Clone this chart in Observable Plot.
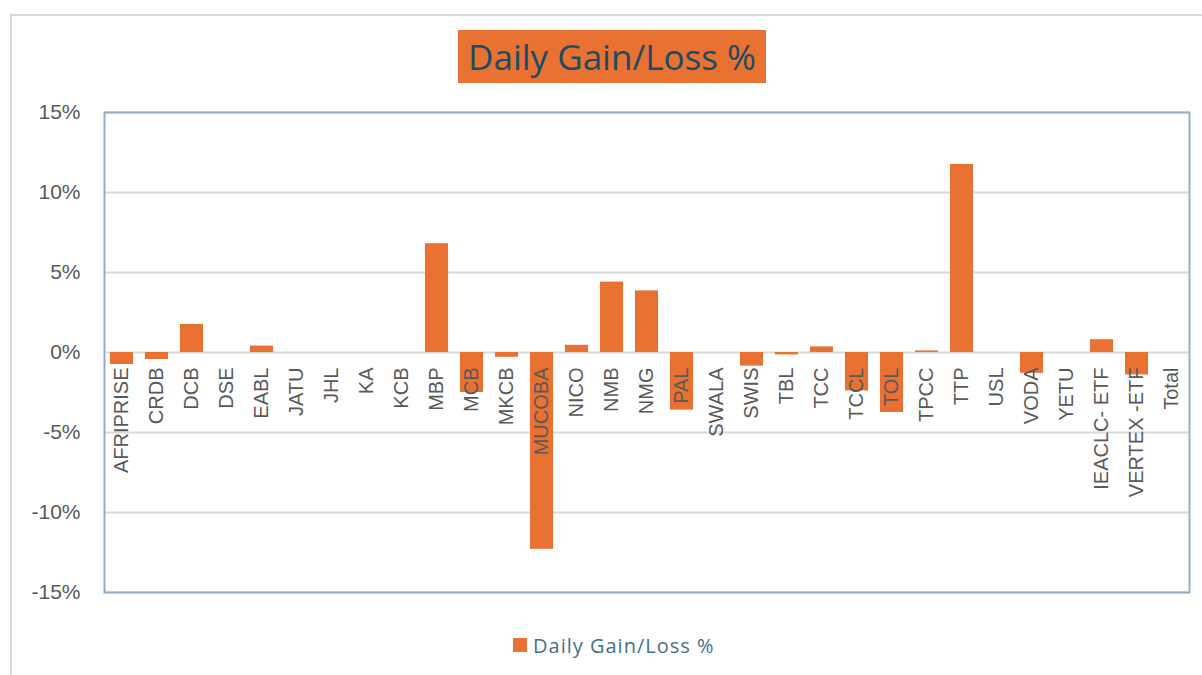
<!DOCTYPE html>
<html>
<head>
<meta charset="utf-8">
<script src="https://cdn.jsdelivr.net/npm/d3@7"></script>
<script src="https://cdn.jsdelivr.net/npm/@observablehq/plot@0.6"></script>
<style>
  html, body { margin: 0; padding: 0; background: #fff; }
  #wrap { position: relative; width: 1202px; height: 675px; overflow: hidden; background: #fff; }
  #border { position: absolute; left: 10px; top: 14px; width: 1300px; height: 800px; border-left: 2px solid #d9d9d9; border-top: 2px solid #d9d9d9; box-sizing: border-box; }
  #title { position: absolute; left: 458px; top: 30px; width: 308px; height: 53px; background: #E97132; color: #1A4C66;
           font-family: "Open Sans", sans-serif; font-size: 35px; line-height: 53px; text-align: center; white-space: nowrap; }
  #chart { position: absolute; left: 0; top: 0; }
  #legend { position: absolute; left: 513px; top: 630px; height: 30px; display: flex; align-items: center; gap: 6px;
            font-family: "Open Sans", sans-serif; font-size: 20px; letter-spacing: 1px; color: #44718A; white-space: nowrap; }
  #legend .sw { width: 14px; height: 14px; background: #E97132; display: inline-block; }
</style>
</head>
<body>
<div id="wrap">
  <div id="border"></div>
  <div id="title">Daily Gain/Loss %</div>
  <div id="chart"></div>
  <div id="legend"><span class="sw"></span><span>Daily Gain/Loss %</span></div>
</div>
<script>
const categories = ["AFRIPRISE","CRDB","DCB","DSE","EABL","JATU","JHL","KA","KCB","MBP","MCB","MKCB","MUCOBA","NICO","NMB","NMG","PAL","SWALA","SWIS","TBL","TCC","TCCL","TOL","TPCC","TTP","USL","VODA","YETU","IEACLC- ETF","VERTEX -ETF","Total"];
const values = [-0.75, -0.44, 1.75, 0, 0.4, 0, 0, 0, 0, 6.8, -2.5, -0.3, -12.3, 0.45, 4.4, 3.85, -3.6, 0, -0.85, -0.15, 0.35, -2.4, -3.75, 0.1, 11.75, 0, -1.3, 0, 0.8, -1.4, 0];
const yTicks = [-15, -10, -5, 0, 5, 10, 15];
const seriesName = "Daily Gain/Loss %";

const data = categories.map((c, i) => ({category: c, value: values[i]}));

const chart = Plot.plot({
  width: 1202,
  height: 620,
  marginLeft: 104,
  marginRight: 13,
  marginTop: 112,
  marginBottom: 28,
  style: {background: "transparent", fontFamily: "'Liberation Sans', Arial, sans-serif"},
  x: {domain: categories, paddingInner: 0.34, paddingOuter: 0.17, round: false, axis: null},
  y: {domain: [-15, 15], axis: null},
  marks: [
    Plot.gridY(yTicks, {stroke: "#d9d9d9", strokeOpacity: 1, strokeWidth: 2}),
    Plot.axisY(yTicks, {tickSize: 0, tickPadding: 24, tickFormat: d => d + "%", fontSize: 21, fill: "#595959", label: null}),
    Plot.barY(data, {x: "category", y: "value", fill: "#E97132"}),
    Plot.text(data, {x: "category", y: () => 0, text: "category", rotate: -90, textAnchor: "end", lineAnchor: "middle", dy: 15, fontSize: 20, fill: "#595959"}),
    Plot.frame({stroke: "#8EAFC4", strokeWidth: 2})
  ]
});
document.getElementById("chart").appendChild(chart);
</script>
</body>
</html>
